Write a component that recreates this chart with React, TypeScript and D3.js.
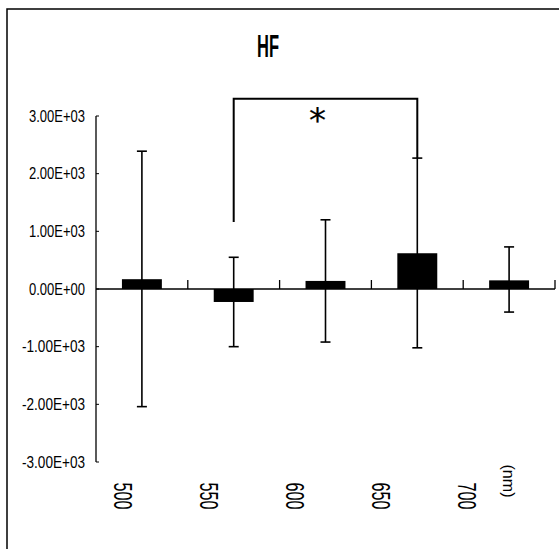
import React from 'react';
import * as d3 from 'd3';

const categories = ['500', '550', '600', '650', '700'];
const means = [170, -225, 140, 620, 150];
const errUpper = [2390, 550, 1200, 2270, 730];
const errLower = [-2040, -1000, -920, -1020, -400];
const yTicks = [3000, 2000, 1000, 0, -1000, -2000, -3000];
const yTickLabels = ['3.00E+03', '2.00E+03', '1.00E+03', '0.00E+00', '-1.00E+03', '-2.00E+03', '-3.00E+03'];
const bracketFrom = '550';
const bracketTo = '650';
const bracketTop = 3300;
const bracketLeftEnd = 1160;

const W = 559;
const H = 549;
const font = "'Liberation Sans', sans-serif";

function App() {
  const x = d3.scaleBand<string>().domain(categories).range([96, 555]).paddingInner(0.565).paddingOuter(0.2825);
  const y = d3.scaleLinear().domain([-3000, 3000]).range([462, 116]);
  const labelX = d3.scalePoint<string>().domain(categories).range([123, 467]);
  const bw = x.bandwidth();
  const cx = (c: string) => (x(c) as number) + bw / 2;
  const step = x.step();

  const bx1 = cx(bracketFrom);
  const bx2 = cx(bracketTo);
  const toIdx = categories.indexOf(bracketTo);

  return (
    <svg width={W} height={H} style={{ position: 'absolute', left: 0, top: 0 }}>
      <rect width={W} height={H} fill="#fff" />
      <path d={`M7,${H} V9 H${W}`} fill="none" stroke="#000" strokeWidth={1.5} />

      <text x={268} y={57} textAnchor="middle" fontFamily={font} fontWeight="bold" fontSize={32} textLength={22} lengthAdjust="spacingAndGlyphs">HF</text>

      {/* y axis */}
      <line x1={96} x2={96} y1={y(3000)} y2={y(-3000)} stroke="#000" strokeWidth={1.3} />
      {yTicks.map((t, i) => (
        <g key={t}>
          <line x1={96} x2={99} y1={y(t)} y2={y(t)} stroke="#000" strokeWidth={1} />
          <text x={85} y={y(t) + 5.5} textAnchor="end" fontFamily={font} fontSize={16}
            textLength={yTickLabels[i].length * 7} lengthAdjust="spacingAndGlyphs">{yTickLabels[i]}</text>
        </g>
      ))}

      {/* zero line with category ticks */}
      <line x1={96} x2={555} y1={y(0)} y2={y(0)} stroke="#000" strokeWidth={1.3} />
      {categories.map((c, i) => (
        <line key={c} x1={96 + step * (i + 1)} x2={96 + step * (i + 1)} y1={y(0)} y2={y(0) - 9} stroke="#000" strokeWidth={1.3} />
      ))}

      {/* bars */}
      {categories.map((c, i) => (
        <rect key={c} x={x(c)} width={bw} y={Math.min(y(means[i]), y(0))} height={Math.abs(y(means[i]) - y(0))} fill="#000" />
      ))}

      {/* error bars */}
      {categories.map((c, i) => (
        <g key={c} stroke="#000" strokeWidth={1.6}>
          <line x1={cx(c)} x2={cx(c)} y1={y(errUpper[i])} y2={y(errLower[i])} />
          <line x1={cx(c) - 5} x2={cx(c) + 5} y1={y(errUpper[i])} y2={y(errUpper[i])} />
          <line x1={cx(c) - 5} x2={cx(c) + 5} y1={y(errLower[i])} y2={y(errLower[i])} />
        </g>
      ))}

      {/* significance bracket */}
      <path d={`M${bx1},${y(bracketLeftEnd)} V${y(bracketTop)} H${bx2} V${y(errUpper[toIdx])}`} fill="none" stroke="#000" strokeWidth={2} />
      <text x={(bx1 + bx2) / 2 - 8} y={132} textAnchor="middle" fontFamily="'DejaVu Sans', sans-serif" fontSize={34} stroke="#000" strokeWidth={0.2}>*</text>

      {/* x labels */}
      {categories.map((c) => (
        <text key={c} transform={`translate(${labelX(c)},496) rotate(90)`} textAnchor="middle" dy="0.35em" fontFamily={font} fontSize={25} textLength={27} lengthAdjust="spacingAndGlyphs">{c}</text>
      ))}
      <text transform="translate(509,481) rotate(90)" textAnchor="middle" dy="0.35em" fontFamily={font} fontSize={17} textLength={33} lengthAdjust="spacingAndGlyphs">(nm)</text>
    </svg>
  );
}

export default App;
